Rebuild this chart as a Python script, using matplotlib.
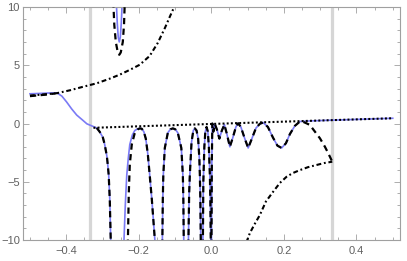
import matplotlib
matplotlib.use("Agg")  # headless
import matplotlib.pyplot as plt
import numpy as np
from matplotlib.ticker import MultipleLocator

# --- values --------------------------------------------------------------
# blue (exact) curve, split at its poles
blue_x1 = [-0.5, -0.473, -0.446, -0.426, -0.412, -0.399, -0.385, -0.371, -0.357, -0.343,
           -0.330, -0.316, -0.308, -0.299, -0.294, -0.288, -0.286, -0.283, -0.280, -0.277]
blue_y1 = [2.55, 2.58, 2.62, 2.63, 2.35, 1.85, 1.25, 0.72, 0.35, -0.03,
           -0.2, -0.38, -0.7, -1.2, -1.8, -2.8, -3.4, -4.4, -6.5, -10.5]
blue_xu = [-0.2621, -0.2593, -0.2566, -0.2538, -0.2510, -0.2483, -0.2455]
blue_yu = [10.5, 8.6, 7.4, 7.0, 7.4, 8.6, 10.5]
blue_xa1 = [-0.2414, -0.2372, -0.2331, -0.2290, -0.2248, -0.2179, -0.2110, -0.2028, -0.1972,
            -0.1917, -0.1862, -0.1807, -0.1752, -0.1697, -0.1641, -0.1586, -0.1545]
blue_ya1 = [-10.5, -7.0, -4.4, -3.0, -1.8, -1.0, -0.6, -0.45, -0.42,
            -0.45, -0.7, -1.3, -2.6, -4.5, -6.5, -8.8, -10.5]
blue_xa2 = [-0.1352, -0.1338, -0.1324, -0.1283, -0.1200, -0.1131, -0.1062, -0.0993, -0.0924,
            -0.0828, -0.0786, -0.0772, -0.0759]
blue_ya2 = [-10.5, -6.5, -4.4, -2.1, -0.8, -0.5, -0.42, -0.5, -0.8, -2.1, -4.4, -6.5, -10.5]
blue_xa3 = [-0.0634, -0.0612, -0.0593, -0.0546, -0.0497, -0.0455, -0.0408, -0.0364, -0.0331,
            -0.0317, -0.0303, -0.0290]
blue_ya3 = [-10.5, -6.0, -4.4, -1.6, -0.6, -0.42, -0.6, -1.3, -3.0, -4.4, -6.5, -10.5]
blue_xa4 = [-0.0234, -0.0221, -0.0193, -0.0166, -0.0132, -0.0097, -0.0069, -0.0041, -0.0028, -0.0014]
blue_ya4 = [-10.5, -5.0, -2.0, -0.7, -0.3, -0.7, -2.0, -4.4, -6.5, -10.5]
blue_xr = [0.0003, 0.0014, 0.0028, 0.0055, 0.0097, 0.0152, 0.0221, 0.0290, 0.0359, 0.0428,
           0.0510, 0.0593, 0.0676, 0.0739, 0.0814, 0.0910, 0.1015, 0.1117, 0.1228, 0.1338,
           0.1429, 0.1559, 0.1697, 0.1821, 0.1937, 0.2055, 0.2166, 0.2303, 0.2441, 0.2717,
           0.3269, 0.4097, 0.5]
blue_yr = [-10.5, -3.0, 0.0, -0.7, -0.05, -0.5, -1.3, -0.6, -0.1, -0.9,
           -2.0, -1.2, -0.3, 0.02, -0.3, -1.2, -2.1, -1.3, -0.4, -0.02,
           0.08, -0.3, -1.2, -1.9, -2.1, -1.7, -0.9, -0.2, 0.17, 0.22,
           0.28, 0.36, 0.45]

# black dashed (approximation) where it differs from the blue curve
dash_x_left = [-0.5, -0.475, -0.45, -0.43]
dash_y_left = [2.35, 2.42, 2.5, 2.58]
dash_xu = [-0.2703, -0.2676, -0.2634, -0.2579, -0.2538, -0.2497, -0.2441, -0.2407, -0.2386]
dash_yu = [10.5, 8.5, 7.0, 6.1, 5.9, 6.1, 7.0, 8.5, 10.5]
dash_x_rise = [-0.2303, -0.2276, -0.2248, -0.2193, -0.2110, -0.2028]
dash_y_rise = [-10.5, -6.0, -3.5, -1.8, -0.8, -0.5]
dash_x_end = [0.2524, 0.2634, 0.2717, 0.2855, 0.2993, 0.3131, 0.3222, 1 / 3]
dash_y_end = [0.15, 0.0, -0.13, -0.7, -1.27, -2.0, -2.55, -3.28]

# black dotted envelope
dot_x = [-0.325, -0.2, 0.0, 0.2, 0.5]
dot_y = [-0.37, -0.24, -0.04, 0.16, 0.45]

# black dash-dot branches
upper_x = [-0.5, -0.459, -0.426, -0.390, -0.354, -0.316, -0.280, -0.252, -0.225, -0.197,
           -0.170, -0.148, -0.128, -0.114, -0.101, -0.093]
upper_y = [2.4, 2.5, 2.6, 2.85, 3.15, 3.45, 3.85, 4.2, 4.6, 5.05,
           5.8, 6.9, 8.2, 9.2, 10.1, 10.8]
lower_x = [0.0966, 0.1062, 0.1200, 0.1338, 0.1503, 0.1705, 0.1890, 0.2074, 0.2248, 0.2441,
           0.2662, 0.2902, 0.3103, 1 / 3]
lower_y = [-10.2, -9.4, -8.6, -7.85, -6.7, -5.85, -5.1, -4.57, -4.25, -4.0,
           -3.75, -3.56, -3.4, -3.28]

guide_x = [-1 / 3, 1 / 3]

x_ticks = [-0.4, -0.2, 0.0, 0.2, 0.4]
x_labels = ["\u22120.4", "\u22120.2", "0.0", "0.2", "0.4"]
y_ticks = [-10, -5, 0, 5, 10]
y_labels = ["\u221210", "\u22125", "0", "5", "10"]

# --- figure ----------------------------------------------------------------
plt.rcParams["lines.scale_dashes"] = False
plt.rcParams["font.family"] = ["Liberation Sans", "DejaVu Sans"]
W, H = 407, 261
fig = plt.figure(figsize=(W / 100, H / 100), dpi=100)
ax = fig.add_axes([22.7 / W, 1 - 240 / H, (400 - 22.7) / W, (240 - 7) / H])

for gx in guide_x:
    ax.axvline(gx, color="#d6d6d6", lw=2.3, zorder=1)

blue = "#7a7af5"
blue_segs = [(blue_x1, blue_y1), (blue_xu, blue_yu), (blue_xa1, blue_ya1),
             (blue_xa2, blue_ya2), (blue_xa3, blue_ya3), (blue_xa4, blue_ya4),
             (blue_xr, blue_yr)]
for xs, ys in blue_segs:
    ax.plot(xs, ys, color=blue, lw=1.2, zorder=2)

# dashed approximation: shares most of its points with the blue curve
n_cut = 11  # from x=-0.316 onwards
n_peak = 8  # arch-1 points from its peak
dash_segs = [
    (dash_x_left, dash_y_left),
    (blue_x1[n_cut:], blue_y1[n_cut:]),
    (dash_xu, dash_yu),
    (dash_x_rise + blue_xa1[n_peak:], dash_y_rise + blue_ya1[n_peak:]),
    (blue_xa2, blue_ya2), (blue_xa3, blue_ya3), (blue_xa4, blue_ya4),
    (blue_xr[:29] + dash_x_end, blue_yr[:29] + dash_y_end),
]
for xs, ys in dash_segs:
    ax.plot(xs, ys, color="black", lw=1.6, dashes=(4.5, 3.2), zorder=3)

ax.plot(dot_x, dot_y, color="black", lw=1.5, dashes=(1.4, 1.6), zorder=4)
ax.plot(upper_x, upper_y, color="black", lw=1.5, dashes=(3.5, 2, 1.3, 2), zorder=4)
ax.plot(lower_x, lower_y, color="black", lw=1.5, dashes=(3.5, 2, 1.3, 2), zorder=4)

ax.set_xlim(-0.52, 0.52)
ax.set_ylim(-10, 10)
ax.set_xticks(x_ticks)
ax.set_xticklabels(x_labels)
ax.set_yticks(y_ticks)
ax.set_yticklabels(y_labels)
ax.xaxis.set_minor_locator(MultipleLocator(0.05))
ax.yaxis.set_minor_locator(MultipleLocator(1))
ax.tick_params(which="both", direction="in", top=True, right=True,
               color="#a0a0a0", width=0.6, labelcolor="#606060", labelsize=8)
ax.tick_params(which="major", length=4)
ax.tick_params(which="minor", length=2)
ax.tick_params(axis="x", pad=4)
ax.tick_params(axis="y", pad=2)
for sp in ax.spines.values():
    sp.set_color("#a0a0a0")
    sp.set_linewidth(0.8)

fig.savefig("out.png", dpi=100)
plt.close(fig)
